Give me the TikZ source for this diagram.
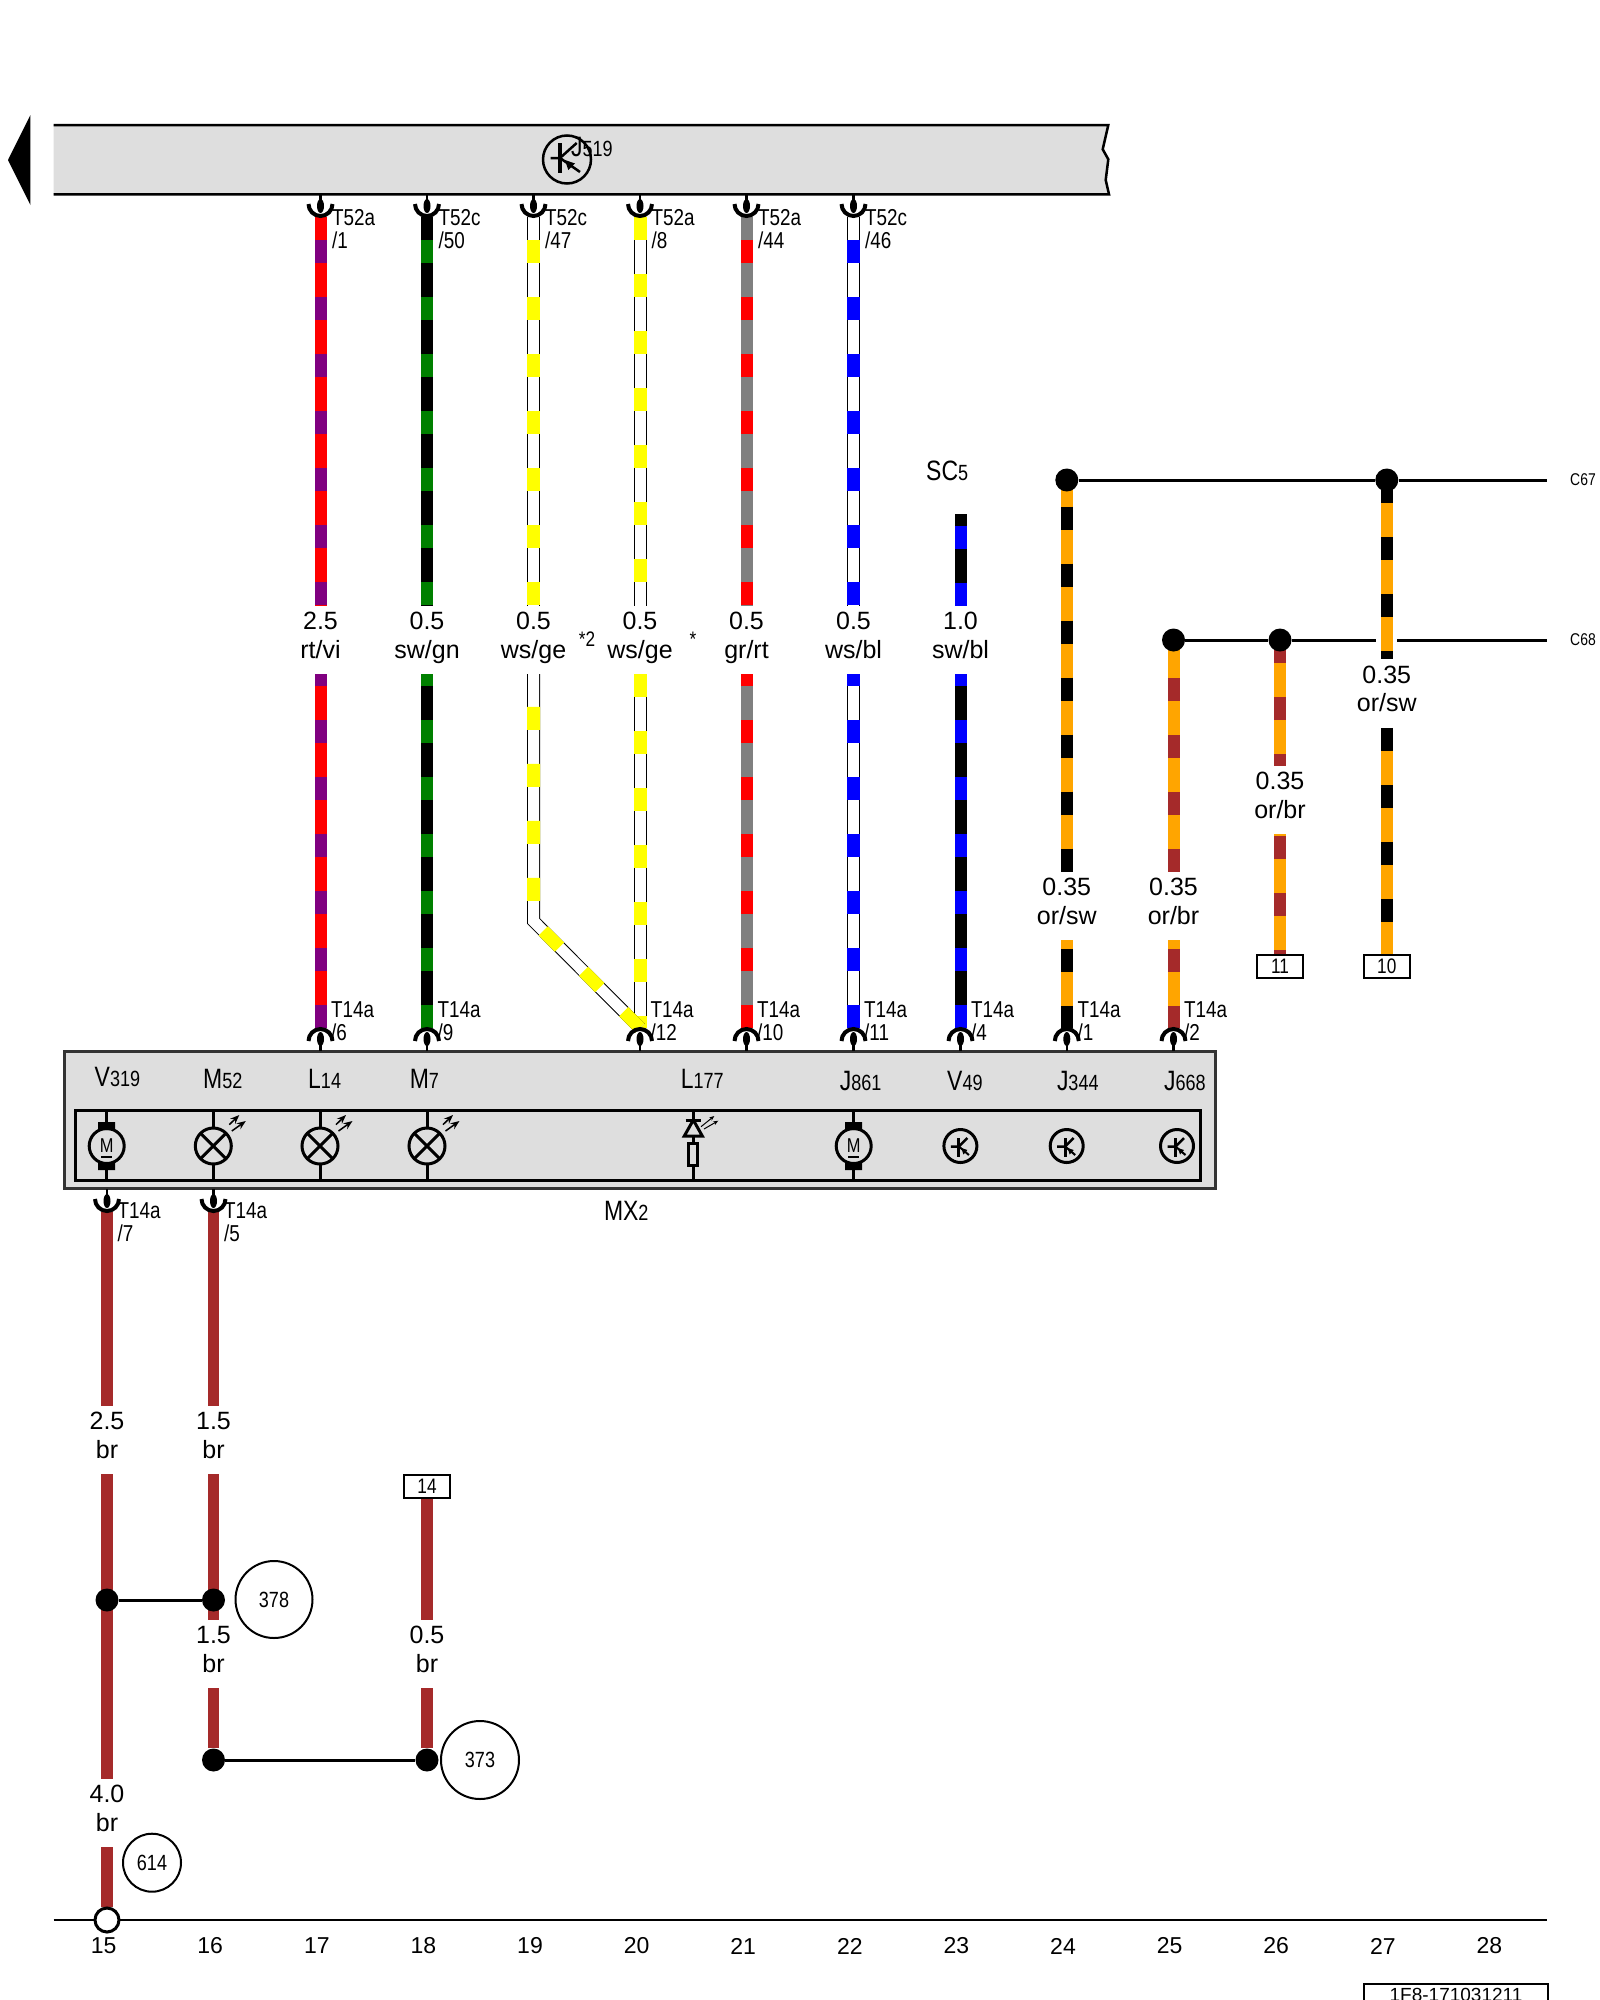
\documentclass[tikz,border=0pt]{standalone}
\usepackage{fontspec}
\setmainfont{Liberation Sans}
\newfontfamily\narrowfont[FakeStretch=0.82]{Liberation Sans}
\usetikzlibrary{arrows.meta}
\pgfdeclarelayer{background}
\pgfsetlayers{background,main}
\definecolor{wirered}{HTML}{FF0000}
\definecolor{wireviolet}{HTML}{800080}
\definecolor{wiregreen}{HTML}{008000}
\definecolor{wireyellow}{HTML}{FFFF00}
\definecolor{wiregray}{HTML}{808080}
\definecolor{wireblue}{HTML}{0000FF}
\definecolor{wireorange}{HTML}{FFA500}
\definecolor{wirebrown}{HTML}{A52A2A}
\colorlet{panel area}{black!13}
\newcommand{\partcaption}[2]{{\fontsize{28}{28}\selectfont #1}{\fontsize{22}{22}\selectfont #2}}
\def\toppins{{(320.5,217)/t17/T52a/1}, {(427,217)/t18/T52c/50}, {(533.5,217)/t19/T52c/47}, {(640,217)/t20/T52a/8}, {(746.5,217)/t21/T52a/44}, {(853.5,217)/t22/T52c/46}}
\def\midpins{{(320.5,1028)/b17/6}, {(427,1028)/b18/9}, {(640,1028)/b20/12}, {(746.5,1028)/b21/10}, {(853.5,1028)/b22/11}, {(960.5,1028)/b23/4}, {(1066.8,1028)/b24/1}, {(1173.5,1028)/b25/2}}
\def\lowpins{{(107,1212)/l15/7}, {(213.5,1212)/l16/5}}
\def\gauges{{(320.5,640)/u17/{2.5\\rt/vi}}, {(427,640)/u18/{0.5\\sw/gn}}, {(533.5,640)/u19/{0.5\\ws/ge}}, {(640,640)/u20/{0.5\\ws/ge}}, {(746.5,640)/u21/{0.5\\gr/rt}}, {(853.5,640)/u22/{0.5\\ws/bl}}, {(960.5,640)/u23/{1.0\\sw/bl}}, {(1066.8,906)/u24/{0.35\\or/sw}}, {(1173.5,906)/u25/{0.35\\or/br}}, {(1280,800)/u26/{0.35\\or/br}}, {(1386.8,693.5)/u27/{0.35\\or/sw}}, {(107,1440)/u15/{2.5\\br}}, {(213.5,1440)/u16/{1.5\\br}}, {(213.5,1654)/v16/{1.5\\br}}, {(427,1654)/v18/{0.5\\br}}, {(107,1813)/v15/{4.0\\br}}}
\def\joints{{(1066.8,480)/j24}, {(1386.8,480)/j27}, {(1173.5,640)/j25}, {(1280,640)/j26}, {(107,1600)/j15}, {(213.5,1600)/j16}, {(213.5,1760)/k16}, {(427,1760)/k18}}
\def\parts{{(94.5,1086)/V/319}, {(203,1088)/M/52}, {(308,1088)/L/14}, {(409.6,1088)/M/7}, {(680.6,1088)/L/177}, {(839.6,1090)/J/861}, {(947,1090)/V/49}, {(1056.8,1090)/J/344}, {(1163.9,1090)/J/668}, {(603.8,1220.7)/MX/2}, {(926,480)/SC/5}, {(571,156)/J/519}}
\def\stripedwires{t17/u17.north/wirered/wireviolet/34, u17.south/b17/wirered/wireviolet/11, t18/u18.north/black/wiregreen/34, u18.south/b18/black/wiregreen/11, t21/u21.north/wiregray/wirered/34, u21.south/b21/wiregray/wirered/11, s23/u23.north/black/wireblue/45.3, u23.south/b23/black/wireblue/11, j24.center/u24.north/wireorange/black/30.3, u24.south/b24/wireorange/black/48.3, j25.center/u25.north/wireorange/wirebrown/19, u25.south/b25/wireorange/wirebrown/48.3, j26.center/u26.north/wireorange/wirebrown/0, u26.south/box11.north/wireorange/wirebrown/55, j27.center/u27.north/wireorange/black/0, u27.south/box10.north/wireorange/black/56.5}
\def\whitewires{t19/u19.north/wireyellow/34, t20/u20.north/wireyellow/0, u20.south/b20/wireyellow/0, t22/u22.north/wireblue/34, u22.south/b22/wireblue/11}
\def\brownwires{l15/u15.north, u15.south/v15.north, v15.south/g15, l16/u16.north, u16.south/v16.north, v16.south/k16, box14.south/v18.north, v18.south/k18}
\tikzstyle{wirebase}=[draw, line width=12pt]
\tikzstyle{wirestripe}=[draw, line width=12pt, dash pattern=on 23pt off 34pt]
\tikzstyle{wireoutline}=[draw=black, line width=13pt]
\tikzstyle{wirewhite}=[draw=white, line width=11pt]
\tikzstyle{wirepatch}=[draw, line width=13pt, dash pattern=on 23pt off 34pt]
\tikzstyle{hookup}=[draw, line width=3pt]
\tikzstyle{gauge}=[align=center, inner sep=0pt, minimum height=68pt, font=\fontsize{25}{28.5}\selectfont]
\tikzstyle{joint}=[circle, fill=black, minimum size=23pt, inner sep=0pt]
\tikzstyle{pinlabel}=[align=left, anchor=north west, inner sep=0pt, font=\narrowfont\fontsize{23}{23}\selectfont]
\tikzstyle{partlabel}=[anchor=base west, inner sep=0pt, font=\narrowfont]
\tikzstyle{tagbox}=[draw, line width=2pt, minimum width=46pt, minimum height=23pt, inner sep=0pt, font=\narrowfont\fontsize{21}{21}\selectfont]
\tikzstyle{refcircle}=[circle, draw, line width=2pt, inner sep=0pt, font=\narrowfont\fontsize{22}{22}\selectfont]
\tikzstyle{colnum}=[inner sep=0pt, font=\fontsize{23}{23}\selectfont]
\tikzstyle{smalltag}=[inner sep=0pt, font=\narrowfont\fontsize{17}{17}\selectfont]
\tikzstyle{panel}=[draw=black!80, fill=panel area, line width=3pt, inner sep=0pt]
\tikzset{
  pinplug/.pic={
    \draw[line width=2.5pt] (0,-23) -- (0,-14);
    \fill (0,-11) ellipse [x radius=3.5pt, y radius=7pt];
    \draw[line width=4pt] (-12,-13) .. controls (-12,-6.4) and (-6.6,-1) .. (0,-1) .. controls (6.6,-1) and (12,-6.4) .. (12,-13);
  },
  transistor/.pic={
    \draw[line width=2.5pt] (0,0) circle [radius=24pt];
    \draw[line width=3.5pt] (-7,-16.5) -- (-7,13.5);
    \draw[line width=2.5pt] (-16.5,-1.5) -- (-7,-1.5) -- (9.7,-16.5);
    \draw[line width=2.5pt] (-7,-1.5) -- (13,12.5);
    \fill (-2,0.5) -- (8,4) -- (1.3,10.5) -- cycle;
  },
  smallswitch/.pic={
    \draw[line width=3pt] (0,0) circle [radius=16.5pt];
    \draw[line width=3pt] (-1.5,-8) -- (-1.5,10.5);
    \draw[line width=2.5pt] (-9.5,0.5) -- (-1.5,0.5) -- (7,-8);
    \draw[line width=2pt] (-1.5,0.5) -- (8.5,9);
    \fill (1,2) -- (7,4) -- (3,8.5) -- cycle;
  },
  motor/.pic={
    \draw[line width=3pt] (0,-36) -- (0,-24) (0,24) -- (0,34);
    \fill (-8.5,-24) rectangle (8.5,-16) (-8.5,16) rectangle (8.5,24);
    \draw[line width=3pt] (0,0) circle [radius=17.5pt];
    \node[inner sep=0pt, font=\narrowfont\fontsize{20}{20}\selectfont] (-m) at (0,0) {M};
    \draw[line width=2pt] (-5.5,11) -- (5.5,11);
  },
  lamp/.pic={
    \draw[line width=3pt] (0,-36) -- (0,-18) (0,18) -- (0,34);
    \draw[line width=3pt] (0,0) circle [radius=18pt];
    \draw[line width=3pt] (-12.7,-12.7) -- (12.7,12.7) (-12.7,12.7) -- (12.7,-12.7);
    \draw[line width=1.5pt, -{Stealth[length=9pt, width=7pt]}] (16,-21.4) -- (26,-31);
    \draw[line width=1.5pt, -{Stealth[length=9pt, width=7pt]}] (18.5,-15) -- (32.5,-25);
  },
  ledlamp/.pic={
    \draw[line width=3pt] (0,-36) -- (0,-26) (0,-10) -- (0,-3) (0,20) -- (0,34);
    \draw[line width=3pt] (-7.6,-26) -- (7.6,-26);
    \draw[line width=3pt] (0,-26) -- (9,-10) -- (-9,-10) -- cycle;
    \draw[line width=3pt] (-4.5,-2.7) rectangle (4.5,19.7);
    \draw[line width=1pt, -{Stealth[length=5pt, width=4pt]}] (7.7,-19.3) -- (21,-30);
    \draw[line width=1pt, -{Stealth[length=5pt, width=4pt]}] (10.7,-17) -- (25,-25.3);
  }
}
\begin{document}
\begin{tikzpicture}[x=1pt, y=-1pt]
  \useasboundingbox (0,0) rectangle (1600,2000);

  % The control unit at the top
  \fill (8,160) -- (30.4,115) -- (30.4,205) -- cycle;
  \fill[panel area] (53.6,125) -- (1108.3,125) -- (1102.7,149.3) -- (1108.3,159.3) -- (1105.7,180) -- (1109,194.3) -- (53.6,194.3) -- cycle;
  \draw[line width=2.5pt] (53.6,125) -- (1108.3,125) -- (1102.7,149.3) -- (1108.3,159.3) -- (1105.7,180) -- (1109,194.3) -- (53.6,194.3);
  \pic at (567,159.5) {transistor};

  % The module
  \node[panel, minimum width=1151pt, minimum height=137pt] (mx) at (640.2,1119.7) {};
  \node[draw, line width=3pt, inner sep=0pt, minimum width=1125pt, minimum height=70pt] (mxinner) at (638.4,1145.2) {};
  \pic at (106.7,1146) {motor};
  \pic at (213.3,1146) {lamp};
  \pic at (320,1146) {lamp};
  \pic at (427,1146) {lamp};
  \pic at (693.3,1146) {ledlamp};
  \pic at (853.7,1146) {motor};
  \pic at (960.4,1146) {smallswitch};
  \pic at (1066.7,1146) {smallswitch};
  \pic at (1177,1146) {smallswitch};

  % The part names
  \foreach \pos/\letter/\digits [count=\i] in \parts
    \node[partlabel] (part\i) at \pos {\partcaption{\letter}{\digits}};

  % The plugs
  \foreach \pos/\name/\plug/\num in \toppins {
    \node[coordinate] (\name) at \pos {};
    \pic at (\name) {pinplug};
    \node[pinlabel, xshift=11.5pt, yshift=8pt] (\name-label) at (\name) {\plug\\/\num};
  }
  \foreach \pos/\name/\num in \midpins {
    \node[coordinate] (\name) at \pos {};
    \pic[yscale=-1] at (\name) {pinplug};
    \node[pinlabel, xshift=10.5pt, yshift=27pt] (\name-label) at (\name) {T14a\\/\num};
  }
  \foreach \pos/\name/\num in \lowpins {
    \node[coordinate] (\name) at \pos {};
    \pic at (\name) {pinplug};
    \node[pinlabel, xshift=10.5pt, yshift=10pt] (\name-label) at (\name) {T14a\\/\num};
  }

  % Size and colour of each wire
  \foreach \pos/\name/\gaugetext in \gauges
    \node[gauge] (\name) at \pos {\gaugetext\rule[-9.5pt]{0pt}{9.5pt}};
  \node[anchor=base, inner sep=0pt, font=\narrowfont\fontsize{21}{21}\selectfont] (star19) at (587,646.7) {*2};
  \node[anchor=base, inner sep=0pt, font=\narrowfont\fontsize{21}{21}\selectfont] (star20) at (693,646.7) {*};

  % The junctions and boxes
  \foreach \pos/\name in \joints
    \node[joint] (\name) at \pos {};
  \node[circle, draw, fill=white, line width=3pt, minimum size=24pt, inner sep=0pt] (g15) at (107,1920) {};
  \node[tagbox] (box11) at (1280,966.5) {11};
  \node[tagbox] (box10) at (1386.8,966.5) {10};
  \node[tagbox] (box14) at (427,1486) {14};
  \node[refcircle, minimum size=77pt] (ref378) at (274,1599.5) {378};
  \node[refcircle, minimum size=78pt] (ref373) at (480,1760) {373};
  \node[refcircle, minimum size=58pt] (ref614) at (152,1862.7) {614};
  \node[smalltag] (c67) at (1583,480) {C67};
  \node[smalltag] (c68) at (1583,640) {C68};
  \coordinate (s23) at (960.5,514);
  \coordinate (kink19) at (533.5,921);
  \coordinate (end67) at (1547,480);
  \coordinate (end68) at (1547,640);
  \coordinate (gapleft) at (1376,640);
  \coordinate (gapright) at (1397,640);
  \coordinate (railleft) at (53.6,1920);
  \coordinate (railright) at (1547,1920);

  % The wires go below everything else
  \begin{pgfonlayer}{background}
    \path[hookup] (j24) -- (j27) -- (end67);
    \path[hookup] (j25) -- (j26) -- (gapleft);
    \path[hookup] (gapright) -- (end68);
    \path[hookup] (j15) -- (j16);
    \path[hookup] (k16) -- (k18);
    \foreach \source/\sink/\base/\stripe/\phase in \stripedwires {
      \path[wirebase, draw=\base] (\source) -- (\sink);
      \path[wirestripe, draw=\stripe, dash phase=\phase pt] (\source) -- (\sink);
    }
    \foreach \source/\sink/\stripe/\phase in \whitewires {
      \path[wireoutline] (\source) -- (\sink);
      \path[wirewhite] (\source) -- (\sink);
      \path[wirepatch, draw=\stripe, dash phase=\phase pt] (\source) -- (\sink);
    }
    \path[wireoutline] (u19.south) -- (kink19) -- (b20);
    \path[wirewhite] (u19.south) -- (kink19) -- (b20);
    \path[wirepatch, draw=wireyellow, dash phase=24.3pt] (u19.south) -- (kink19) -- (b20);
    \foreach \source/\sink in \brownwires
      \path[wirebase, draw=wirebrown, line width=11.5pt] (\source) -- (\sink);
    \path[draw, line width=2.5pt] (railleft) -- (railright);
  \end{pgfonlayer}

  % The column numbers
  \foreach \col in {15,...,28}
    \node[colnum] (n\col) at ({103.6+(\col-15)*106.6},1946) {\col};
  \node[draw, line width=2pt, inner sep=0pt, minimum width=184pt, minimum height=22pt, font=\fontsize{19}{19}\selectfont] (sheet) at (1456,1995) {1F8-171031211};

\end{tikzpicture}
\end{document}
